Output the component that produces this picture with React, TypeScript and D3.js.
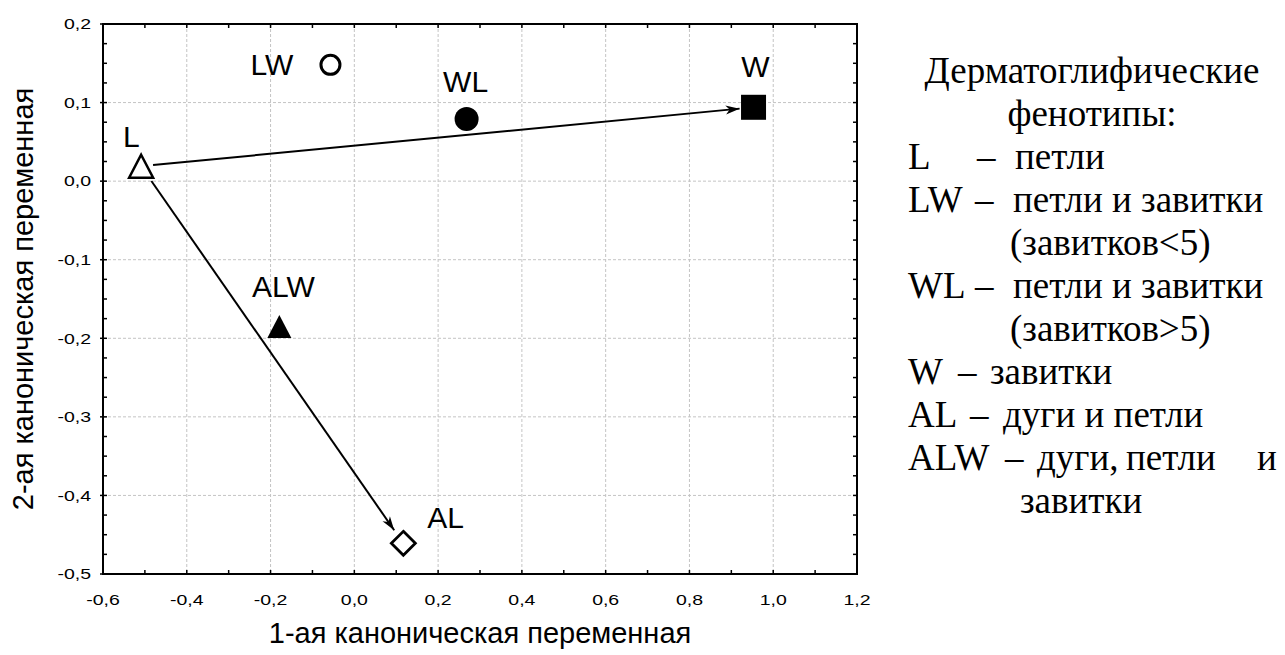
import React from 'react';
import * as d3 from 'd3';

// canonical scores of group centroids
const groups = ['L', 'LW', 'WL', 'W', 'ALW', 'AL'];
const can1 = [-0.509, -0.057, 0.268, 0.953, -0.179, 0.117];
const can2 = [0.019, 0.148, 0.079, 0.094, -0.185, -0.461];

// arrows between groups
const arrowFrom = ['L', 'L'];
const arrowTo = ['W', 'AL'];

const xTicks = [-0.6, -0.4, -0.2, 0.0, 0.2, 0.4, 0.6, 0.8, 1.0, 1.2];
const yTicks = [0.2, 0.1, 0.0, -0.1, -0.2, -0.3, -0.4, -0.5];

const xTitle = '1-ая каноническая переменная';
const yTitle = '2-ая каноническая переменная';

// legend text
const legendHead = ['Дерматоглифические', 'фенотипы:'];
const legendCodes = ['L', 'LW', '', 'WL', '', 'W', 'AL', 'ALW', ''];
const legendDashes = ['–', '–', '', '–', '', '–', '–', '–', ''];
const legendDescs = [
  ['петли'],
  ['петли и завитки'],
  ['(завитков<5)'],
  ['петли и завитки'],
  ['(завитков>5)'],
  ['завитки'],
  ['дуги и петли'],
  ['дуги,', 'петли', 'и'],
  ['завитки'],
];

// styling / layout (not data)
const markerKind: Record<string, string> = {
  L: 'triOpen', LW: 'circOpen', WL: 'circFill', W: 'sqFill', ALW: 'triFill', AL: 'diaOpen',
};
const labelOffset: Record<string, [number, number, string]> = {
  L: [-18, -19, 'start'],
  LW: [-80, 10, 'start'],
  WL: [-1, -27, 'middle'],
  W: [2, -30, 'middle'],
  ALW: [4, -30, 'middle'],
  AL: [24, -15, 'start'],
};
const dashX = [977, 975, 0, 975, 0, 958, 970, 1005, 0];
const descX = [[1015], [1013], [1010], [1013], [1010], [990], [1003], [1037, 1126, 1257], [1020]];

const W = 1285, H = 655;
const left = 103, right = 857, top = 24, bottom = 574;

const Marker = ({ kind, cx, cy }: { kind: string; cx: number; cy: number }) => {
  if (kind === 'triOpen' || kind === 'triFill') {
    const p = `M${cx},${cy - 11.5} L${cx + 12},${cy + 11.5} L${cx - 12},${cy + 11.5} Z`;
    return kind === 'triOpen'
      ? <path d={p} fill="#fff" stroke="#000" strokeWidth={2.5} strokeLinejoin="miter" />
      : <path d={p} fill="#000" />;
  }
  if (kind === 'circOpen') return <circle cx={cx} cy={cy} r={9.5} fill="#fff" stroke="#000" strokeWidth={3} />;
  if (kind === 'circFill') return <circle cx={cx} cy={cy} r={12} fill="#000" />;
  if (kind === 'sqFill') return <rect x={cx - 12.5} y={cy - 12.5} width={25} height={25} fill="#000" />;
  const p = `M${cx},${cy - 12} L${cx + 12},${cy} L${cx},${cy + 12} L${cx - 12},${cy} Z`;
  return <path d={p} fill="#fff" stroke="#000" strokeWidth={2.8} />;
};

const fmt = (t: number) => d3.format('.1f')(t).replace('.', ',').replace('−', '-');

export default function App() {
  const x = d3.scaleLinear().domain([-0.6, 1.2]).range([left, right]);
  const y = d3.scaleLinear().domain([-0.5, 0.2]).range([bottom, top]);

  const xMinor = d3.range(-6, 13).map(i => i / 10);
  const yMinor = d3.range(-20, 9).map(i => i / 40);

  const pos = (g: string) => {
    const i = groups.indexOf(g);
    return [x(can1[i]), y(can2[i])];
  };

  const arrows = arrowFrom.map((f, k) => {
    const [x0, y0] = pos(f);
    const [x1, y1] = pos(arrowTo[k]);
    const len = Math.hypot(x1 - x0, y1 - y0);
    const ux = (x1 - x0) / len, uy = (y1 - y0) / len;
    const s0 = k === 0 ? 12 : 18, s1 = k === 0 ? 14 : 16;
    return { x0: x0 + ux * s0, y0: y0 + uy * s0, x1: x1 - ux * s1, y1: y1 - uy * s1 };
  });

  const sans = '"Liberation Sans", Arial, sans-serif';
  const serif = '"Liberation Serif", "Times New Roman", "DejaVu Serif", serif';

  return (
    <svg width={W} height={H} style={{ position: 'absolute', left: 0, top: 0, background: '#fff' }}>
      <defs>
        <marker id="arr" markerUnits="userSpaceOnUse" markerWidth={20} markerHeight={12}
          viewBox="-15 -6 16 12" refX={0} refY={0} orient="auto">
          <path d="M0,0 L-14,-4.5 L-10,0 L-14,4.5 Z" fill="#000" />
        </marker>
      </defs>

      {/* grid */}
      {xTicks.slice(1, -1).map(t => (
        <line key={'gx' + t} x1={x(t)} x2={x(t)} y1={top} y2={bottom} stroke="#c4c4c4" strokeDasharray="3,2" />
      ))}
      {yTicks.slice(1, -1).map(t => (
        <line key={'gy' + t} x1={left} x2={right} y1={y(t)} y2={y(t)} stroke="#c4c4c4" strokeDasharray="3,2" />
      ))}

      {/* ticks, all four sides, inward */}
      {xMinor.map(t => (
        <g key={'tx' + t}>
          <line x1={x(t)} x2={x(t)} y1={bottom} y2={bottom - 4} stroke="#000" strokeWidth={1.5} />
          <line x1={x(t)} x2={x(t)} y1={top} y2={top + 4} stroke="#000" strokeWidth={1.5} />
        </g>
      ))}
      {yMinor.map(t => (
        <g key={'ty' + t}>
          <line x1={left} x2={left + 4} y1={y(t)} y2={y(t)} stroke="#000" strokeWidth={1.5} />
          <line x1={right} x2={right - 4} y1={y(t)} y2={y(t)} stroke="#000" strokeWidth={1.5} />
        </g>
      ))}
      {yTicks.map(t => (
        <line key={'my' + t} x1={left - 3} x2={left} y1={y(t)} y2={y(t)} stroke="#000" strokeWidth={1.5} />
      ))}

      <rect x={left} y={top} width={right - left} height={bottom - top} fill="none" stroke="#000" strokeWidth={2} />

      {/* tick labels */}
      {yTicks.map(t => (
        <text key={'ly' + t} transform={`translate(91,${y(t)}) scale(1.3,1)`} dy="0.35em" textAnchor="end"
          fontFamily={sans} fontSize={15} fill="#000">{fmt(t)}</text>
      ))}
      {xTicks.map(t => (
        <text key={'lx' + t} transform={`translate(${x(t)},605) scale(1.3,1)`} textAnchor="middle"
          fontFamily={sans} fontSize={15} fill="#000">{fmt(t)}</text>
      ))}

      {/* axis titles */}
      <text x={(left + right) / 2} y={643} textAnchor="middle" fontFamily={sans} fontSize={29} fill="#000">{xTitle}</text>
      <text transform={`translate(33,${(top + bottom) / 2}) rotate(-90)`} textAnchor="middle" fontFamily={sans} fontSize={29} fill="#000">{yTitle}</text>

      {/* arrows */}
      {arrows.map((a, k) => (
        <line key={'a' + k} x1={a.x0} y1={a.y0} x2={a.x1} y2={a.y1} stroke="#000" strokeWidth={2} markerEnd="url(#arr)" />
      ))}

      {/* points and labels */}
      {groups.map((g, i) => {
        const cx = x(can1[i]), cy = y(can2[i]);
        const [dx, dy, anchor] = labelOffset[g];
        return (
          <g key={g}>
            <Marker kind={markerKind[g]} cx={cx} cy={cy} />
            <text x={cx + dx} y={cy + dy} textAnchor={anchor as any} fontFamily={sans} fontSize={30} fill="#000">{g}</text>
          </g>
        );
      })}

      {/* legend */}
      <g fontFamily={serif} fontSize={37} fill="#000">
        {legendHead.map((s, i) => (
          <text key={'h' + i} x={1092} y={83 + 43 * i} textAnchor="middle">{s}</text>
        ))}
        {legendCodes.map((c, i) => {
          const yy = 83 + 43 * (i + 2);
          return (
            <g key={'l' + i}>
              {c && <text x={908} y={yy}>{c}</text>}
              {legendDashes[i] && <text x={dashX[i]} y={yy}>{legendDashes[i]}</text>}
              {legendDescs[i].map((d, j) => (
                <text key={j} x={descX[i][j]} y={yy}>{d}</text>
              ))}
            </g>
          );
        })}
      </g>
    </svg>
  );
}
